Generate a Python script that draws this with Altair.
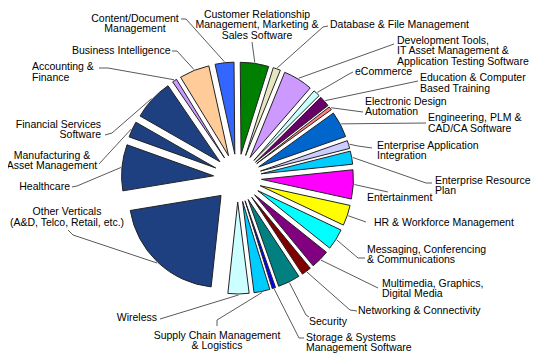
import math
import altair as alt
import pandas as pd

# Slices, clockwise from 12 o'clock
labels = [
    "Customer Relationship\nManagement, Marketing &\nSales Software",
    "Database & File Management",
    "Development Tools,\nIT Asset Management &\nApplication Testing Software",
    "eCommerce",
    "Education & Computer\nBased Training",
    "Electronic Design\nAutomation",
    "Engineering, PLM &\nCAD/CA Software",
    "Enterprise Application\nIntegration",
    "Enterprise Resource\nPlan",
    "Entertainment",
    "HR & Workforce Management",
    "Messaging, Conferencing\n& Communications",
    "Multimedia, Graphics,\nDigital Media",
    "Networking & Connectivity",
    "Security",
    "Storage & Systems\nManagement Software",
    "Supply Chain Management\n& Logistics",
    "Wireless",
    "Other Verticals\n(A&D, Telco, Retail, etc.)",
    "Healthcare",
    "Manufacturing &\nAsset Management",
    "Financial Services\nSoftware",
    "Accounting &\nFinance",
    "Business Intelligence",
    "Content/Document\nManagement",
]
values = [5.0, 1.3, 5.2, 1.2, 1.9, 0.6, 4.6, 1.4, 2.3, 5.1, 3.6, 3.7, 3.3, 1.7,
          3.9, 0.6, 2.8, 3.7, 20.7, 8.1, 2.8, 7.2, 0.8, 5.3, 3.3]
colors = ["#008000", "#E6E6C3", "#CC99FF", "#CCFFFF", "#660066", "#FF8080",
          "#0066CC", "#CCCCFF", "#00CCFF", "#FF00FF", "#FFFF00", "#00FFFF",
          "#800080", "#800000", "#008080", "#0000FF", "#00CCFF", "#CCFFFF",
          "#1E4080", "#1E4080", "#1E4080", "#1E4080", "#CC99FF", "#FFCC99",
          "#3366FF"]

# Label layout (page pixels): text position, alignment, leader anchor and elbow
label_align = ["center", "left", "left", "left", "left", "left", "left", "left",
               "left", "left", "left", "left", "left", "left", "left", "left",
               "center", "right", "center", "right", "center", "right", "left",
               "left", "center"]
label_x = [257, 330, 397, 355, 420, 365, 428, 377, 435, 367, 374, 367, 382, 358,
           309, 306, 217, 157, 67, 70, 52, 101, 32, 72, 135]
label_y = [14, 24.3, 40, 71.7, 77.7, 101, 117.7, 145, 180, 197.7, 222.3, 249.3,
           283.3, 310.7, 321.7, 337, 335, 317.7, 211.7, 186.7, 155, 124, 66.7, 50,
           18.3]
anchor_x = [252, 328, 394, 353, 418, 363, 426, 372, 432, 388, 366, 365, 378, 357,
            309, 304, 217, 160, 68, 72, 99, 105, 99, 172, 181]
anchor_y = [42, 26, 44, 72, 81, 112, 123, 148, 183, 192, 222, 258, 288, 311,
            317, 338, 326, 319, 230, 187, 164, 135, 68, 51, 19]
elbow_x = [252, 323, 394, 349, 418, 363, 426, 358, 426, 388, 366, 358, 378, 350,
           306, 299, 217, 160, 73, 77, 99, 112, 108, 177, 186]
elbow_y = [42, 27, 44, 74, 81, 112, 123, 146, 183, 192, 222, 258, 288, 310,
           315, 338, 320, 319, 235, 186, 164, 133, 68, 51, 19]

CX, CY = 237.5, 178.0   # pie centre (page px)
D = 24                  # explode distance
R = 92                  # slice radius
RL = 93                 # leader end distance from slice apex
A0 = math.radians(-0.5)

df = pd.DataFrame({
    "cat": [l.replace("\n", " ") for l in labels],
    "label": labels,
    "val": values,
    "order": list(range(len(values))),
    "align": label_align,
    "lx": label_x, "ly": label_y,
    "ax": anchor_x, "ay": anchor_y,
    "ex": elbow_x, "ey": elbow_y,
})

xs = alt.Scale(domain=[8, 532], range=[0, 524], nice=False, zero=False)
ys = alt.Scale(domain=[8, 353], range=[0, 345], nice=False, zero=False)

base = alt.Chart(df).transform_joinaggregate(
    total="sum(val)"
).transform_window(
    cum="sum(val)", sort=[alt.SortField("order")], frame=[None, 0]
).transform_calculate(
    t0="(datum.cum - datum.val) / datum.total",
    t1="datum.cum / datum.total",
    mid=f"{A0} + 2 * PI * (datum.cum - datum.val / 2) / datum.total",
).transform_calculate(
    cx=f"{CX} + {D} * sin(datum.mid)",
    cy=f"{CY} - {D} * cos(datum.mid)",
).transform_calculate(
    px=f"datum.cx + {RL} * sin(datum.mid)",
    py=f"datum.cy - {RL} * cos(datum.mid)",
    ty="datum.ly - 4.5",
)

lead_col = "#5a5a5a"
lead1 = base.mark_rule(color=lead_col, strokeWidth=1).encode(
    x=alt.X("ax:Q", scale=xs, axis=None),
    y=alt.Y("ay:Q", scale=ys, axis=None),
    x2="ex:Q", y2="ey:Q",
)
lead2 = base.mark_rule(color=lead_col, strokeWidth=1).encode(
    x=alt.X("ex:Q", scale=xs, axis=None),
    y=alt.Y("ey:Q", scale=ys, axis=None),
    x2="px:Q", y2="py:Q",
)

arcs = base.mark_arc(radius=R, stroke="#222222", strokeWidth=1).encode(
    x=alt.X("cx:Q", scale=xs, axis=None),
    y=alt.Y("cy:Q", scale=ys, axis=None),
    theta=alt.Theta("t0:Q", stack=False,
                    scale=alt.Scale(domain=[0, 1], range=[A0, A0 + 2 * math.pi])),
    theta2="t1:Q",
    color=alt.Color("cat:N", scale=alt.Scale(domain=list(df["cat"]), range=colors),
                    legend=None),
)

texts = []
for al in ["left", "center", "right"]:
    texts.append(
        base.transform_filter(f"datum.align == '{al}'").mark_text(
            align=al, baseline="top", lineBreak="\n", lineHeight=10.5,
            font="Liberation Sans", fontSize=10.5, color="black",
        ).encode(
            x=alt.X("lx:Q", scale=xs, axis=None),
            y=alt.Y("ty:Q", scale=ys, axis=None),
            text="label:N",
        )
    )

chart = alt.layer(lead1, lead2, arcs, *texts).properties(
    width=524, height=345, autosize="none", padding=0, background="white"
).configure_view(strokeWidth=0)

chart.save("out.html", embed_options={"renderer": "svg", "actions": False})
